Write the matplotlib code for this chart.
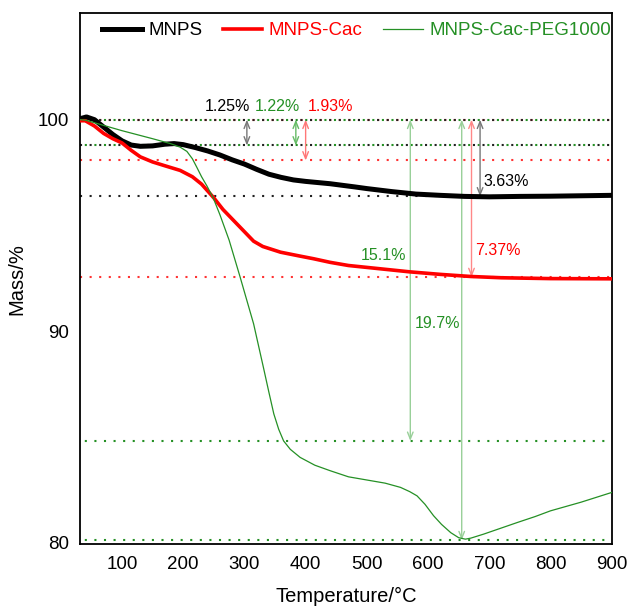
import numpy as np
import matplotlib
matplotlib.use('Agg')
import matplotlib.pyplot as plt

plt.rcParams['font.family'] = ['Liberation Sans', 'DejaVu Sans']

# TGA curves
t_mnps = [32, 42, 55, 70, 85, 100, 115, 130, 150, 170, 185, 200, 220, 240, 260, 280, 300,
          320, 340, 360, 380, 400, 440, 480, 500, 540, 580, 620, 660, 700, 750, 800, 850, 900]
m_mnps = [100.05, 100.13, 100.0, 99.65, 99.3, 99.0, 98.8, 98.74, 98.76, 98.84, 98.87, 98.82,
          98.68, 98.52, 98.33, 98.1, 97.9, 97.65, 97.42, 97.27, 97.15, 97.08, 96.97, 96.82,
          96.74, 96.6, 96.48, 96.42, 96.37, 96.35, 96.37, 96.38, 96.4, 96.42]

t_cac = [32, 40, 55, 70, 85, 100, 115, 130, 150, 170, 195, 215, 230, 250, 265, 282, 300, 315,
         330, 359, 390, 413, 440, 470, 520, 570, 620, 670, 720, 800, 900]
m_cac = [99.95, 99.95, 99.7, 99.35, 99.1, 98.9, 98.55, 98.24, 98.0, 97.82, 97.6, 97.3, 96.95,
         96.3, 95.75, 95.24, 94.7, 94.25, 94.0, 93.73, 93.55, 93.42, 93.25, 93.1, 92.95, 92.8,
         92.68, 92.58, 92.52, 92.48, 92.47]

t_peg = [32, 40, 100, 150, 179, 195, 206, 215, 222, 230, 239, 249, 260, 275, 293, 315, 331,
         340, 348, 356, 364, 375, 391, 415, 440, 470, 500, 530, 555, 570, 582, 595, 609, 622,
         637, 650, 661, 670, 691, 720, 746, 775, 800, 850, 900]
m_peg = [100.0, 99.98, 99.48, 99.1, 98.87, 98.7, 98.5, 98.15, 97.76, 97.3, 96.85, 96.3, 95.5,
         94.3, 92.55, 90.34, 88.28, 87.1, 86.08, 85.35, 84.8, 84.4, 84.02, 83.65, 83.39, 83.1,
         82.95, 82.8, 82.6, 82.4, 82.2, 81.8, 81.26, 80.85, 80.46, 80.22, 80.15, 80.2, 80.39,
         80.68, 80.94, 81.22, 81.49, 81.9, 82.36]

# reference levels (dotted lines)
lvl_black = [100.0, 98.78, 96.37]
lvl_red = [100.0, 98.07, 92.55]
lvl_green = [100.0, 98.78, 84.8, 80.1]

# mass-loss arrows: x position, lower level, label
arr_x = [304, 384, 400, 571, 655, 671, 685]
arr_lo = [98.78, 98.78, 98.07, 84.8, 80.1, 92.55, 96.37]
arr_col = ['#777777', '#66bb66', '#ff7777', '#99d099', '#99d099', '#ff8888', '#777777']
labels = ['1.25%', '1.22%', '1.93%', '15.1%', '19.7%', '7.37%', '3.63%']
lab_x = [273, 354, 440, 527, 616, 714, 727]
lab_y = [100.64, 100.64, 100.64, 93.58, 90.36, 93.82, 97.09]

black = 'black'
red = '#ff0000'
green = '#259025'
lab_col = [black, green, red, green, green, red, black]

fig = plt.figure(figsize=(6.28, 6.09), dpi=100)
ax = fig.add_axes([0.128, 0.106, 0.846, 0.872])

dot = (0, (1, 3.6))
for y in lvl_red:
    ax.axhline(y, color=red, lw=1.5, ls=dot, alpha=0.8, zorder=1)
for y in lvl_black:
    ax.axhline(y, color='#222222', lw=1.5, ls=dot, zorder=1)
for y in lvl_green:
    ax.axhline(y, color=green, lw=1.5, ls=(2.3, (1, 3.6)), zorder=1)

ax.plot(t_mnps, m_mnps, color=black, lw=3.6, label='MNPS', zorder=3)
ax.plot(t_cac, m_cac, color=red, lw=2.6, label='MNPS-Cac', zorder=3)
ax.plot(t_peg, m_peg, color=green, lw=0.9, label='MNPS-Cac-PEG1000', zorder=4)

for x, lo, c in zip(arr_x, arr_lo, arr_col):
    ax.annotate('', xy=(x, lo), xytext=(x, 100.0),
                arrowprops=dict(arrowstyle='<->,head_length=0.5,head_width=0.2',
                                color=c, lw=1.0, shrinkA=0, shrinkB=0), zorder=2)

fs = 13.5
for x, y, s, c in zip(lab_x, lab_y, labels, lab_col):
    ax.text(x, y, s, color=c, fontsize=11.5, ha='center', va='center', zorder=5)

ax.set_xlim(32, 900)
ax.set_ylim(79.9, 105.03)
ax.set_xticks([100, 200, 300, 400, 500, 600, 700, 800, 900])
ax.set_yticks([80, 90, 100])
ax.tick_params(length=0, labelsize=fs, pad=8)
for sp in ax.spines.values():
    sp.set_linewidth(1.3)
ax.set_xlabel('Temperature/°C', fontsize=fs + 1, labelpad=10)
ax.set_ylabel('Mass/%', fontsize=fs + 1, labelpad=8)

leg = ax.legend(loc='upper left', bbox_to_anchor=(0.02, 1.005), ncol=3, frameon=False,
                fontsize=fs, handlelength=2.1, handletextpad=0.35, columnspacing=1.1,
                labelcolor='linecolor', borderaxespad=0.2)

fig.savefig('out.png', dpi=100)
